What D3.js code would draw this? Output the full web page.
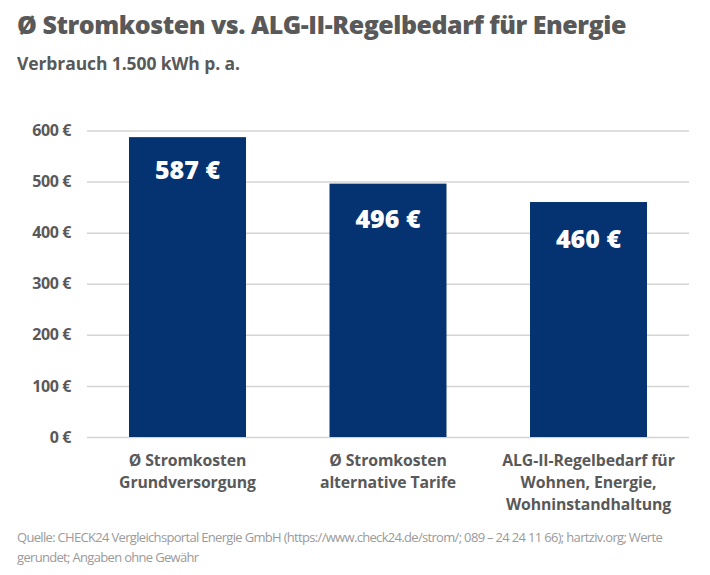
<!DOCTYPE html>
<html><head><meta charset="utf-8">
<script src="https://cdn.jsdelivr.net/npm/d3@7"></script>
<style>html,body{margin:0;padding:0;background:#fff}svg{display:block}text{font-family:"Open Sans",sans-serif}</style>
</head><body><svg id="c" width="710" height="575"></svg>
<script>
const categories=[["Ø Stromkosten","Grundversorgung"],["Ø Stromkosten","alternative Tarife"],["ALG-II-Regelbedarf für","Wohnen, Energie,","Wohninstandhaltung"]];
const values=[587,496,460];
const ticks=[0,100,200,300,400,500,600];
const title="Ø Stromkosten vs. ALG-II-Regelbedarf für Energie";
const subtitle="Verbrauch 1.500 kWh p. a.";
const source=["Quelle: CHECK24 Vergleichsportal Energie GmbH (https://www.check24.de/strom/; 089 – 24 24 11 66); hartziv.org; Werte","gerundet; Angaben ohne Gewähr"];
const labelY=[170,219,239];
const svg=d3.select("#c");
const grey="#595959";
const x=d3.scaleBand().domain(d3.range(3)).range([87,689]).paddingInner(0.4165).paddingOuter(0.2095);
const y=d3.scaleLinear().domain([0,600]).range([437,130.5]);
svg.append("text").attr("x",17).attr("y",34).attr("font-size",25).attr("font-weight",800).attr("letter-spacing",-0.47).attr("fill",grey).text(title);
svg.append("text").attr("x",17).attr("y",70).attr("font-size",17.5).attr("font-weight",700).attr("letter-spacing",-0.1).attr("fill",grey).text(subtitle);
const ax=svg.append("g").attr("transform","translate(87,0)").call(d3.axisLeft(y).tickValues(ticks).tickSize(-602).tickFormat(d=>d+" €"));
ax.select(".domain").remove();
ax.selectAll("line").attr("stroke","#d4d4d4").attr("stroke-width",1.5);
ax.selectAll("text").attr("x",-16).attr("font-size",16).attr("font-weight",700).attr("letter-spacing",-0.4).attr("fill",grey).style("font-family",'"Open Sans",sans-serif');
svg.selectAll("rect.b").data(values).join("rect").attr("class","b").attr("x",(d,i)=>x(i)).attr("width",x.bandwidth()).attr("y",d=>y(d)).attr("height",d=>y(0)-y(d)).attr("fill","#053371");
svg.selectAll("text.v").data(values).join("text").attr("class","v").attr("x",(d,i)=>x(i)+x.bandwidth()/2).attr("y",(d,i)=>labelY[i]+9).attr("text-anchor","middle").attr("font-size",25).attr("font-weight",800).attr("fill","#fff").text(d=>d+" €");
categories.forEach((c,i)=>{const t=svg.append("text").attr("text-anchor","middle").attr("font-size",15.8).attr("font-weight",700).attr("letter-spacing",-0.1).attr("fill",grey);
c.forEach((l,j)=>t.append("tspan").attr("x",x(i)+x.bandwidth()/2).attr("y",466+j*22).text(l));});
const s=svg.append("text").attr("font-size",13).attr("letter-spacing",-0.68).attr("fill","#9a9a9a");
source.forEach((l,j)=>s.append("tspan").attr("x",17).attr("y",542+j*20).text(l));
</script></body></html>
